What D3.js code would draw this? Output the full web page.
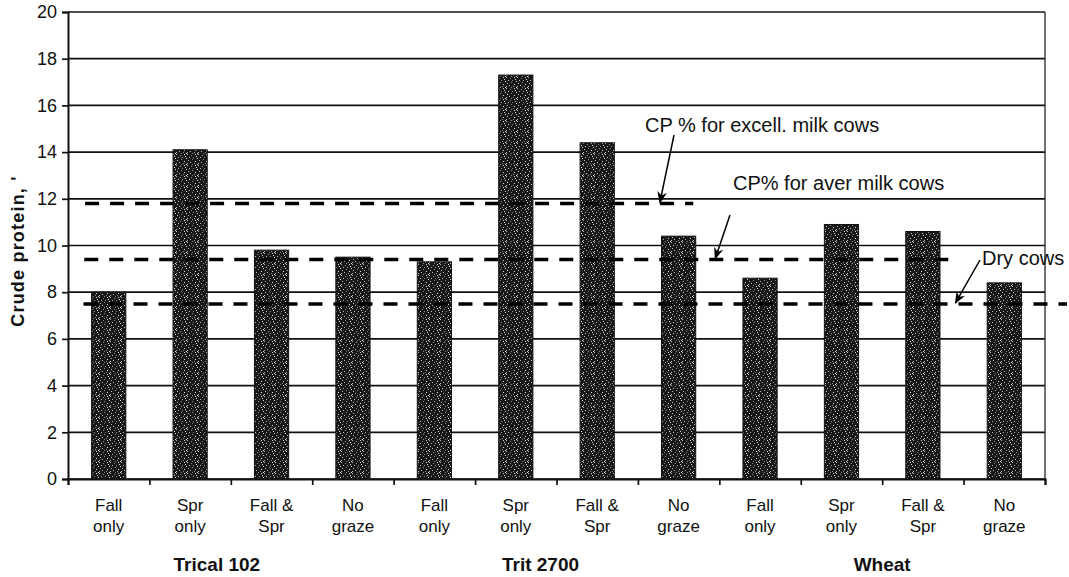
<!DOCTYPE html>
<html>
<head>
<meta charset="utf-8">
<script src="https://cdn.jsdelivr.net/npm/d3@7"></script>
<style>
  html, body { margin: 0; padding: 0; background: #fff; }
  svg { display: block; font-family: "Liberation Sans", Arial, sans-serif; }
</style>
</head>
<body>
<svg id="chart" width="1069" height="577"></svg>
<script>
// Crude protein (%) by variety and grazing treatment
const groups = ["Trical 102", "Trit 2700", "Wheat"];
const treatments = ["Fall only", "Spr only", "Fall & Spr", "No graze"];
const treatmentLines = [["Fall", "only"], ["Spr", "only"], ["Fall &", "Spr"], ["No", "graze"]];
const crudeProtein = [8.0, 14.1, 9.8, 9.5, 9.3, 17.3, 14.4, 10.4, 8.6, 10.9, 10.6, 8.4];
const yTicks = [0, 2, 4, 6, 8, 10, 12, 14, 16, 18, 20];

// Reference requirement levels
const refLabels = ["CP % for excell. milk cows", "CP% for aver milk cows", "Dry cows"];
const refValues = [11.8, 9.4, 7.5];

const categories = [];
groups.forEach(g => treatments.forEach(t => categories.push(g + " | " + t)));

const svg = d3.select("#chart");
const plotLeft = 68, plotRight = 1045, plotTop = 12, plotBottom = 479;

const x = d3.scaleBand().domain(categories).range([plotLeft, plotRight]).paddingInner(0.58).paddingOuter(0.29);
const xPos = d3.scaleLinear().domain([0, categories.length]).range([plotLeft, plotRight]);
const y = d3.scaleLinear().domain([0, 20]).range([plotBottom, plotTop]);

// stippled fill for the bars
const defs = svg.append("defs");
const pat = defs.append("pattern").attr("id", "stipple").attr("patternUnits", "userSpaceOnUse")
  .attr("width", 11).attr("height", 11);
pat.append("rect").attr("width", 11).attr("height", 11).attr("fill", "#181818");
const speckles = [[0,0],[4,1],[8,0],[2,3],[6,3],[10,4],[1,6],[5,5],[8,7],[3,8],[7,9],[10,10],[0,9],[5,10],[9,2]];
speckles.forEach(([px, py], i) => {
  pat.append("rect").attr("x", px).attr("y", py).attr("width", 1).attr("height", 1)
    .attr("fill", ["#bdbdbd", "#8a8a8a", "#e0e0e0"][i % 3]);
});

defs.append("marker").attr("id", "arrow").attr("viewBox", "0 0 10 10")
  .attr("refX", 9).attr("refY", 5).attr("markerWidth", 8).attr("markerHeight", 8)
  .attr("orient", "auto-start-reverse")
  .append("path").attr("d", "M0,1 L10,5 L0,9 L3,5 Z").attr("fill", "#000");

// horizontal gridlines
svg.append("g").selectAll("line").data(yTicks).join("line")
  .attr("x1", plotLeft).attr("x2", plotRight)
  .attr("y1", d => y(d)).attr("y2", d => y(d))
  .attr("stroke", "#111").attr("stroke-width", 1.7);

// right border
svg.append("line").attr("x1", plotRight).attr("x2", plotRight).attr("y1", plotTop).attr("y2", plotBottom)
  .attr("stroke", "#222").attr("stroke-width", 1.3);

// bars
svg.append("g").selectAll("rect").data(crudeProtein).join("rect")
  .attr("x", (d, i) => x(categories[i]))
  .attr("width", x.bandwidth())
  .attr("y", d => y(d))
  .attr("height", d => y(0) - y(d))
  .attr("fill", "url(#stipple)")
  .attr("stroke", "#111").attr("stroke-width", 1);

// y axis
const yAxis = d3.axisLeft(y).tickValues(yTicks).tickSize(6).tickPadding(5).tickFormat(d3.format("d"));
const gy = svg.append("g").attr("transform", `translate(${plotLeft},0)`).call(yAxis);
gy.select(".domain").attr("stroke", "#111").attr("stroke-width", 2);
gy.selectAll(".tick line").attr("stroke", "#111").attr("stroke-width", 1.7);
gy.selectAll(".tick text").attr("font-size", 18).attr("fill", "#111")
  .attr("font-family", "Liberation Sans, Arial, sans-serif");

// x axis with ticks at category boundaries
const xAxis = d3.axisBottom(xPos).tickValues(d3.range(0, categories.length + 1)).tickSize(6).tickFormat("");
const gx = svg.append("g").attr("transform", `translate(0,${plotBottom})`).call(xAxis);
gx.select(".domain").attr("stroke", "#111").attr("stroke-width", 2);
gx.selectAll(".tick line").attr("stroke", "#111").attr("stroke-width", 1.7);

// treatment labels
const lab = svg.append("g").attr("font-size", 17).attr("fill", "#111").attr("text-anchor", "middle");
categories.forEach((c, i) => {
  const t = lab.append("text").attr("x", x(c) + x.bandwidth() / 2).attr("y", 511);
  treatmentLines[i % 4].forEach((ln, k) => {
    t.append("tspan").attr("x", x(c) + x.bandwidth() / 2).attr("dy", k === 0 ? 0 : 21).text(ln);
  });
});

// variety labels
const groupOffsets = [-14, -16, 0];
svg.append("g").selectAll("text").data(groups).join("text")
  .attr("x", (d, i) => xPos(i * 4 + 2) + groupOffsets[i])
  .attr("y", 571)
  .attr("text-anchor", "middle")
  .attr("font-size", 19).attr("font-weight", "bold").attr("fill", "#111")
  .text(d => d);

// y axis title
svg.append("text")
  .attr("transform", "translate(24,251) rotate(-90)")
  .attr("text-anchor", "middle")
  .attr("font-size", 18).attr("font-weight", "bold").attr("fill", "#111")
  .attr("letter-spacing", 1.2)
  .text("Crude protein, '");

// requirement lines (dashed), drawn over the bars
const refSpan = [[0.21, 7.68], [0.2, 10.83], [0.19, 12.27]];
svg.append("g").selectAll("line").data(refValues).join("line")
  .attr("x1", (d, i) => xPos(refSpan[i][0]))
  .attr("x2", (d, i) => xPos(refSpan[i][1]))
  .attr("y1", d => y(d)).attr("y2", d => y(d))
  .attr("stroke", "#000").attr("stroke-width", 3.5)
  .attr("stroke-dasharray", "14 11");

// labels with pointer arrows
const refText = [[645, 132], [733, 190], [982, 265]];
const refArrow = [[674, 135, 7.27], [730, 215, 7.95], [980, 260, 10.9]];
svg.append("g").selectAll("text").data(refLabels).join("text")
  .attr("x", (d, i) => refText[i][0]).attr("y", (d, i) => refText[i][1])
  .attr("font-size", 20).attr("fill", "#111")
  .text(d => d);
svg.append("g").selectAll("line").data(refValues).join("line")
  .attr("x1", (d, i) => refArrow[i][0]).attr("y1", (d, i) => refArrow[i][1])
  .attr("x2", (d, i) => xPos(refArrow[i][2])).attr("y2", d => y(d) - 1)
  .attr("stroke", "#000").attr("stroke-width", 1.5)
  .attr("marker-end", "url(#arrow)");
</script>
</body>
</html>
